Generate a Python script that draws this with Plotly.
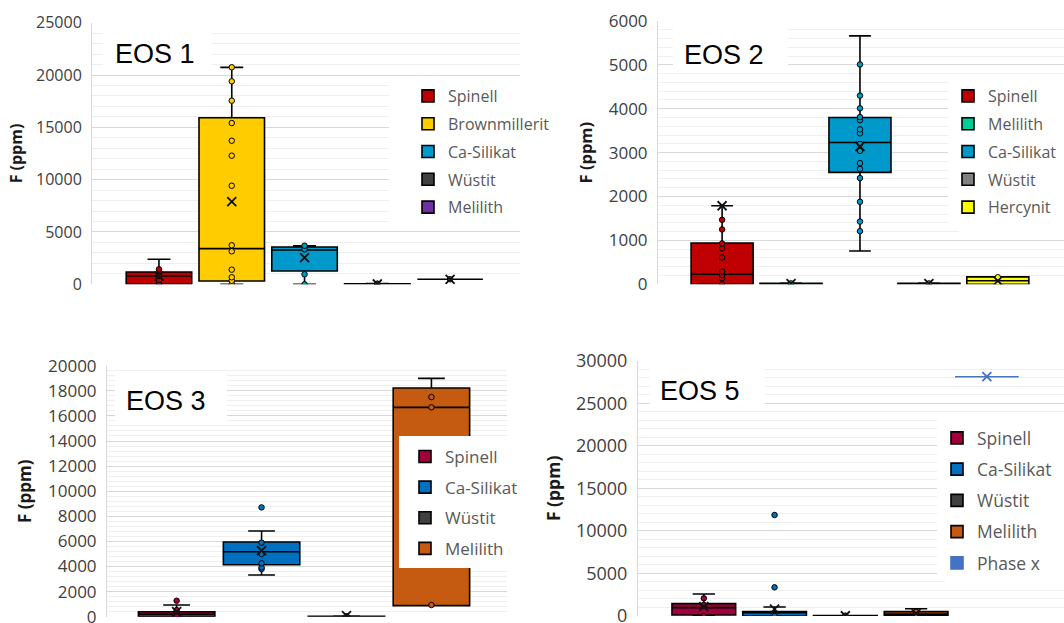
import plotly.graph_objects as go

W, H = 1064, 623

# ---------------- data ----------------
EOS1_PHASES = ["Spinell", "Brownmillerit", "Ca-Silikat", "Wüstit", "Melilith"]
EOS1_Q1 = [0, 320, 1270, 0, 480]
EOS1_MEDIAN = [800, 3410, 3280, 20, 480]
EOS1_Q3 = [1180, 15920, 3570, 40, 480]
EOS1_LOW = [0, 0, 0, 0, 480]
EOS1_HIGH = [2390, 20730, 3690, 60, 480]
EOS1_MEAN = [780, 7900, 2550, 30, 480]
EOS1_POINTS = [
    [20, 410, 800, 1430],
    [30, 340, 670, 1400, 3150, 3730, 9420, 12290, 13720, 15410, 17550, 19400, 20740],
    [0, 960, 3340, 3690],
    [0, 30, 60],
    [480],
]

EOS2_PHASES = ["Spinell", "Melilith", "Ca-Silikat", "Wüstit", "Hercynit"]
EOS2_Q1 = [0, 0, 2550, 0, 0]
EOS2_MEDIAN = [230, 10, 3230, 10, 80]
EOS2_Q3 = [940, 20, 3800, 20, 170]
EOS2_LOW = [0, 0, 760, 0, 0]
EOS2_HIGH = [1790, 30, 5660, 30, 170]
EOS2_MEAN = [1790, 15, 3140, 15, 80]
EOS2_POINTS = [
    [0, 140, 210, 290, 610, 820, 930, 1250, 1470],
    [0, 20],
    [1210, 1430, 1880, 2420, 2630, 2760, 3040, 3200, 3440, 3530, 3740, 3810, 4010, 4300, 5010],
    [0, 20],
    [0, 160],
]

EOS3_PHASES = ["Spinell", "Ca-Silikat", "Wüstit", "Melilith"]
EOS3_Q1 = [0, 4140, 0, 880]
EOS3_MEDIAN = [190, 5180, 20, 16680]
EOS3_Q3 = [400, 5950, 40, 18220]
EOS3_LOW = [0, 3320, 0, 880]
EOS3_HIGH = [930, 6830, 60, 18990]
EOS3_MEAN = [400, 5260, 80, 13500]
EOS3_POINTS = [
    [0, 530, 1270],
    [3800, 3930, 4250, 5000, 5900, 8710],
    [0, 40],
    [930, 16680, 17500],
]

EOS5_PHASES = ["Spinell", "Ca-Silikat", "Wüstit", "Melilith", "Phase x"]
EOS5_Q1 = [120, 0, 0, 50, 28120]
EOS5_MEDIAN = [980, 390, 20, 240, 28120]
EOS5_Q3 = [1450, 510, 40, 510, 28120]
EOS5_LOW = [0, 0, 0, 0, 28120]
EOS5_HIGH = [2590, 1060, 60, 860, 28120]
EOS5_MEAN = [1100, 820, 30, 300, 28120]
EOS5_POINTS = [
    [0, 1290, 2080],
    [0, 3370, 11870],
    [0, 40],
    [0, 500],
    [],
]

Y_TITLE = "F (ppm)"

# ---------------- styles ----------------
EOS1_COLORS = ["#C00000", "#FFCC00", "#0099CC", "#404040", "#7030A0"]
EOS2_COLORS = ["#C00000", "#00CC99", "#0099CC", "#808080", "#FFFF00"]
EOS3_COLORS = ["#A0003C", "#0070C0", "#404040", "#C55A11"]
EOS5_COLORS = ["#A0003C", "#0070C0", "#404040", "#C55A11", "#4472C4"]
EOS5_LINECOLORS = ["black", "black", "black", "black", "#4472C4"]

panels = [
    dict(label="EOS 1", phases=EOS1_PHASES, q1=EOS1_Q1, med=EOS1_MEDIAN, q3=EOS1_Q3,
         lo=EOS1_LOW, hi=EOS1_HIGH, mean=EOS1_MEAN, pts=EOS1_POINTS, colors=EOS1_COLORS,
         lines=["black"] * 5,
         px=(92, 520), py=(22.7, 284.3), ymax=25000, dtick=5000, minor=1000, xr=[-0.92, 4.96],
         tick=16, leg=16, title=16, standoff=9, gap=4,
         legxy=(408, 79), white=(389, 80, 560, 224),
         labelbox=(103, 30, 212, 72), labeltext=(113, 54)),
    dict(label="EOS 2", phases=EOS2_PHASES, q1=EOS2_Q1, med=EOS2_MEDIAN, q3=EOS2_Q3,
         lo=EOS2_LOW, hi=EOS2_HIGH, mean=EOS2_MEAN, pts=EOS2_POINTS, colors=EOS2_COLORS,
         lines=["black"] * 5,
         px=(658, 1064), py=(21, 284.3), ymax=6000, dtick=1000, minor=200, xr=[-0.93, 4.96],
         tick=17, leg=16, title=16.5, standoff=11, gap=4,
         legxy=(948, 79), white=(959, 78, 1064, 237),
         labelbox=(673, 28, 788, 72), labeltext=(682, 55)),
    dict(label="EOS 3", phases=EOS3_PHASES, q1=EOS3_Q1, med=EOS3_MEDIAN, q3=EOS3_Q3,
         lo=EOS3_LOW, hi=EOS3_HIGH, mean=EOS3_MEAN, pts=EOS3_POINTS, colors=EOS3_COLORS,
         lines=["black"] * 4,
         px=(107, 507), py=(365.7, 616.7), ymax=20000, dtick=2000, minor=400, xr=[-0.82, 3.89],
         tick=17, leg=17, title=17, standoff=12, gap=5.5,
         legxy=(405, 439), white=(399, 436, 507, 568),
         labelbox=(115, 373, 227, 425), labeltext=(124, 401)),
    dict(label="EOS 5", phases=EOS5_PHASES, q1=EOS5_Q1, med=EOS5_MEDIAN, q3=EOS5_Q3,
         lo=EOS5_LOW, hi=EOS5_HIGH, mean=EOS5_MEAN, pts=EOS5_POINTS, colors=EOS5_COLORS,
         lines=EOS5_LINECOLORS,
         px=(638, 1064), py=(360.7, 616), ymax=30000, dtick=5000, minor=1000, xr=[-0.93, 5.09],
         tick=18, leg=17.5, title=17.5, standoff=10, gap=5.5,
         legxy=(937, 420), white=(945, 420, 1064, 590),
         labelbox=(650, 364, 765, 408), labeltext=(658, 391)),
]


def fx(px):
    return px / W


def fy(py):
    return 1 - py / H


fig = go.Figure()
layout = dict(
    width=W, height=H, margin=dict(l=0, r=0, t=0, b=0, pad=0, autoexpand=False),
    paper_bgcolor="white", plot_bgcolor="white", showlegend=True,
    shapes=[], annotations=[],
)

for n, p in enumerate(panels, start=1):
    xa = "x" if n == 1 else f"x{n}"
    ya = "y" if n == 1 else f"y{n}"
    legname = "legend" if n == 1 else f"legend{n}"
    for i, ph in enumerate(p["phases"]):
        grp = f"p{n}_{i}"
        fig.add_trace(go.Box(
            x=[i], q1=[p["q1"][i]], median=[p["med"][i]], q3=[p["q3"][i]],
            lowerfence=[p["lo"][i]], upperfence=[p["hi"][i]],
            width=0.9, whiskerwidth=0.35, boxpoints=False,
            fillcolor=p["colors"][i], line=dict(color=p["lines"][i], width=1.6),
            name=ph, legend=legname, legendgroup=grp,
            xaxis=xa, yaxis=ya, hoverinfo="skip",
        ))
        if p["pts"][i]:
            fig.add_trace(go.Scatter(
                x=[i] * len(p["pts"][i]), y=p["pts"][i], mode="markers",
                marker=dict(symbol="circle", size=5.5, color=p["colors"][i],
                            line=dict(color="black", width=1)),
                showlegend=False, legend=legname, legendgroup=grp,
                xaxis=xa, yaxis=ya, hoverinfo="skip",
            ))
        mcol = p["lines"][i] if p["lines"][i] != "black" else "#111111"
        fig.add_trace(go.Scatter(
            x=[i], y=[p["mean"][i]], mode="markers",
            marker=dict(symbol="x-thin", size=9, line=dict(color=mcol, width=1.8)),
            showlegend=False, legend=legname, legendgroup=grp,
            xaxis=xa, yaxis=ya, hoverinfo="skip",
        ))

    layout["xaxis" if n == 1 else f"xaxis{n}"] = dict(
        domain=[fx(p["px"][0]), fx(p["px"][1])], anchor=ya, range=p["xr"],
        showticklabels=False, showgrid=False, zeroline=False, showline=False, ticks="",
        automargin=False, fixedrange=True,
    )
    layout["yaxis" if n == 1 else f"yaxis{n}"] = dict(
        domain=[fy(p["py"][1]), fy(p["py"][0])], anchor=xa, range=[0, p["ymax"]],
        tick0=0, dtick=p["dtick"], tickformat="d",
        showgrid=True, gridcolor="#D9D9D9", gridwidth=1,
        minor=dict(dtick=p["minor"], showgrid=True, gridcolor="#EFEFEF", gridwidth=1),
        zeroline=False, showline=True, linecolor="#D9D9D9", linewidth=1, ticks="",
        ticklabelstandoff=6, automargin=False, ticklabeloverflow="allow", fixedrange=True,
        tickfont=dict(family="Open Sans", size=p["tick"], color="#404040"),
        title=dict(text=f"<b>{Y_TITLE}</b>", standoff=p["standoff"],
                   font=dict(family="Open Sans", size=p["title"], color="#1a1a1a")),
    )
    layout[legname] = dict(
        x=fx(p["legxy"][0]), y=fy(p["legxy"][1]), xanchor="left", yanchor="top",
        xref="paper", yref="paper",
        bgcolor="white", borderwidth=0, traceorder="grouped", tracegroupgap=p["gap"],
        font=dict(family="Open Sans", size=p["leg"], color="#595959"),
    )
    wx0, wy0, wx1, wy1 = p["white"]
    layout["shapes"].append(dict(type="rect", xref="paper", yref="paper",
                                 x0=fx(wx0), x1=fx(wx1), y0=fy(wy1), y1=fy(wy0),
                                 fillcolor="white", line=dict(width=0), layer="above"))
    bx0, by0, bx1, by1 = p["labelbox"]
    layout["shapes"].append(dict(type="rect", xref="paper", yref="paper",
                                 x0=fx(bx0), x1=fx(bx1), y0=fy(by1), y1=fy(by0),
                                 fillcolor="white", line=dict(width=0), layer="above"))
    layout["annotations"].append(dict(
        text=p["label"], xref="paper", yref="paper",
        x=fx(p["labeltext"][0]), y=fy(p["labeltext"][1]), xanchor="left", yanchor="middle",
        showarrow=False, font=dict(family="Liberation Sans", size=27, color="black"),
    ))

fig.update_layout(**layout)
fig.write_html(
    "out.html",
    config={"displayModeBar": False},
    post_script="document.body.style.margin='0';document.body.style.overflow='hidden';",
)
